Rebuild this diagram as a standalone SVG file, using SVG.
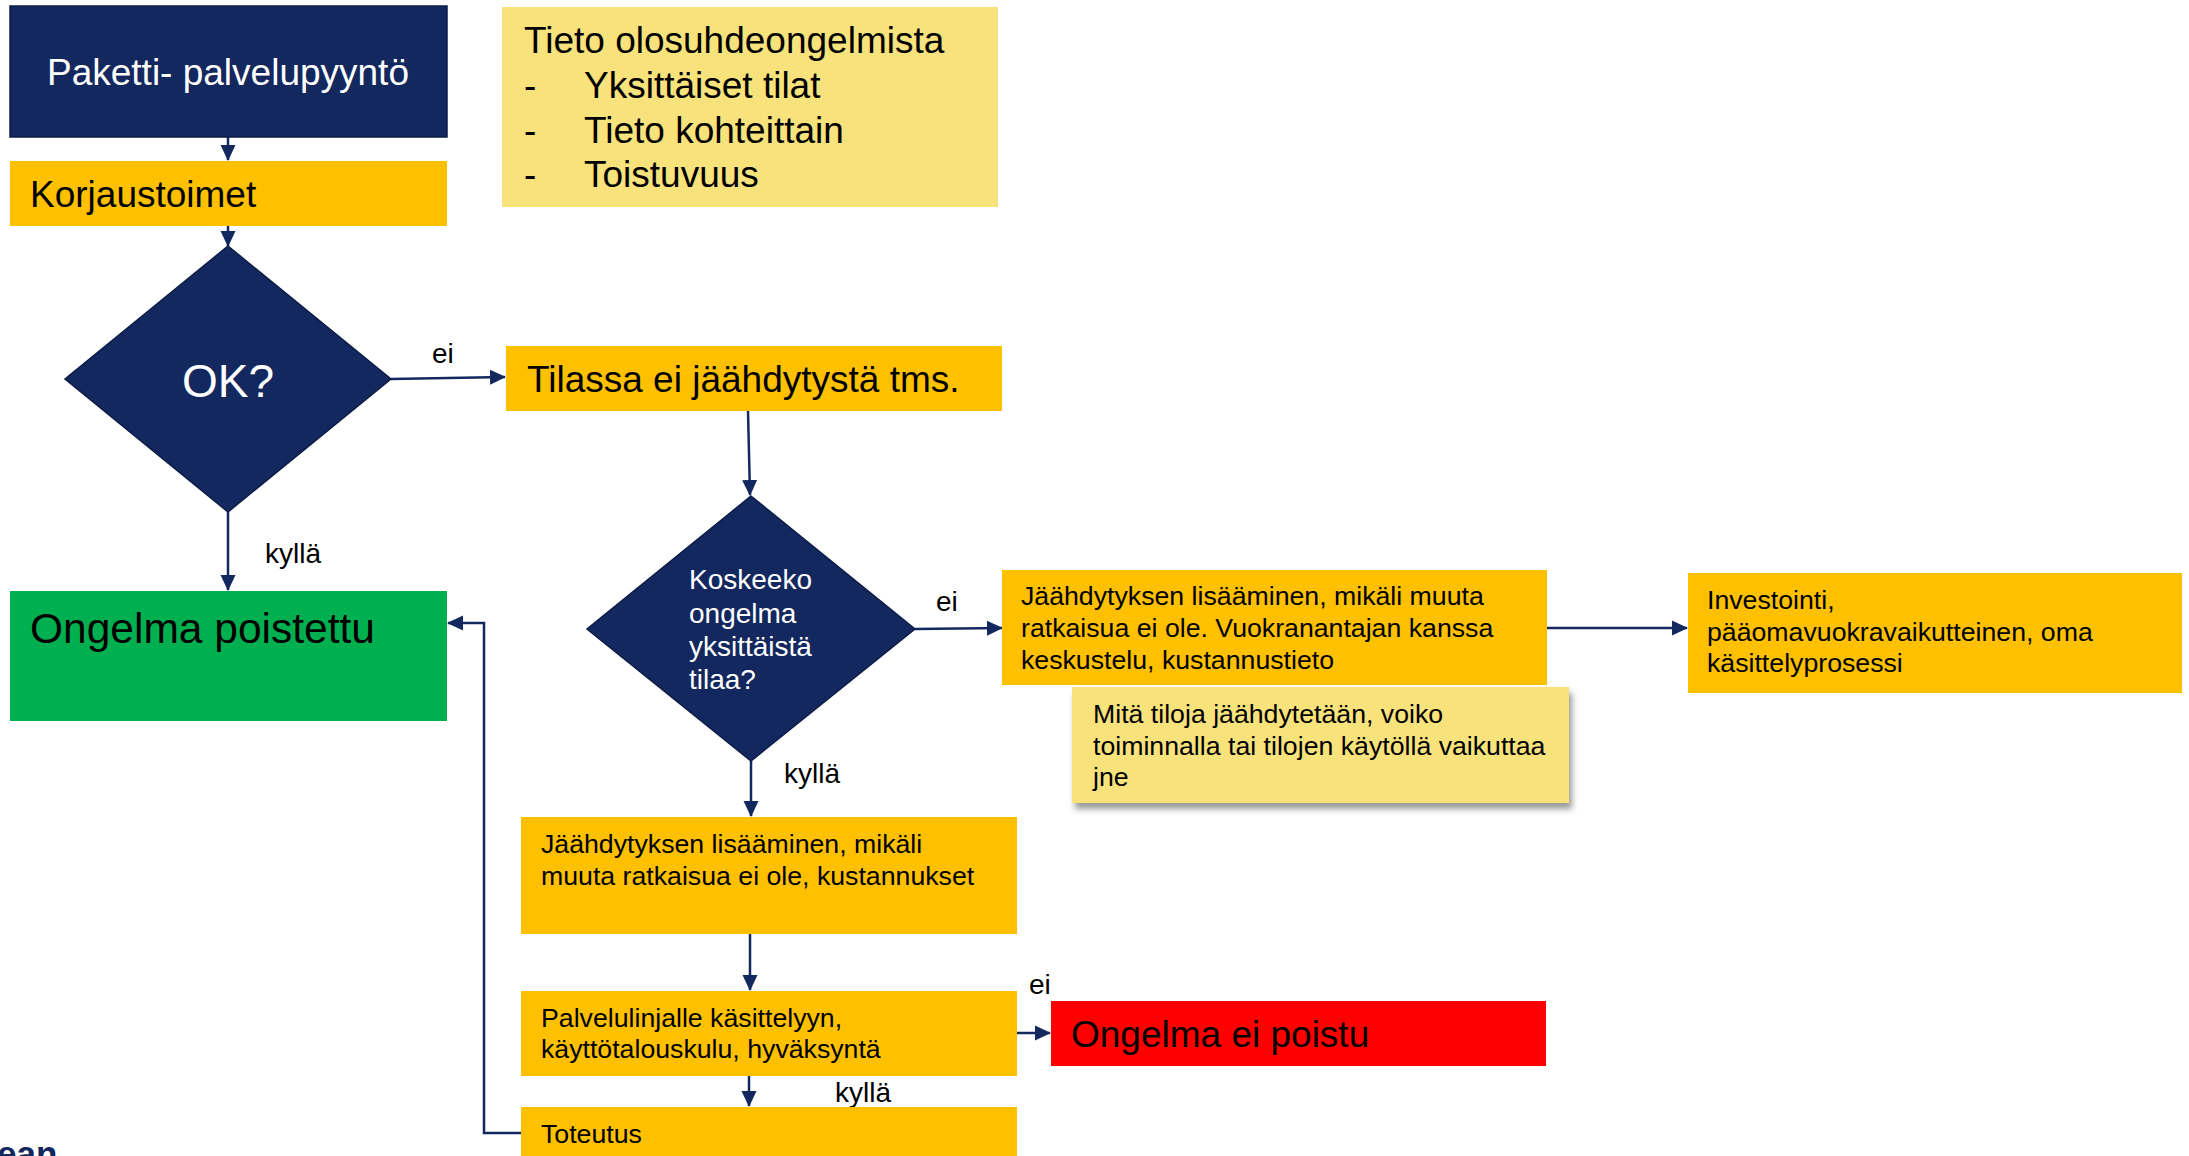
<svg xmlns="http://www.w3.org/2000/svg" width="2189" height="1156" viewBox="0 0 2189 1156">
<defs>
<style>
.t{font-family:"Liberation Sans",Arial,sans-serif;fill:#000}
.w{fill:#fff}
.navy{fill:#13285E;stroke:#0C1C46;stroke-width:1.5}
.org{fill:#FFC000}
.lt{fill:#F8E27B}
.c{fill:none;stroke:#13285E;stroke-width:2.5}
.s36{font-size:37px}
.s27{font-size:26.7px}
.s28{font-size:28px}
</style>
<marker id="ah" viewBox="0 0 16 16" refX="15" refY="8" markerWidth="16" markerHeight="16" markerUnits="userSpaceOnUse" orient="auto">
<path d="M0,0.5 L16,8 L0,15.5 Z" fill="#13285E"/>
</marker>
<filter id="sh" x="-5%" y="-10%" width="115%" height="130%">
<feDropShadow dx="3" dy="6" stdDeviation="3" flood-color="#000" flood-opacity="0.4"/>
</filter>
</defs>
<rect width="2189" height="1156" fill="#fff"/>

<g id="connectors">
<path class="c" d="M228,137 L228,160" marker-end="url(#ah)"/>
<path class="c" d="M228,226 L228,246" marker-end="url(#ah)"/>
<path class="c" d="M391,379 L505,377" marker-end="url(#ah)"/>
<path class="c" d="M748,411 L750,495" marker-end="url(#ah)"/>
<path class="c" d="M228,512 L228,590" marker-end="url(#ah)"/>
<path class="c" d="M915,629 L1002,628" marker-end="url(#ah)"/>
<path class="c" d="M1547,628 L1687,628" marker-end="url(#ah)"/>
<path class="c" d="M751,761 L751,816" marker-end="url(#ah)"/>
<path class="c" d="M750,934 L750,990" marker-end="url(#ah)"/>
<path class="c" d="M1017,1033 L1050,1033" marker-end="url(#ah)"/>
<path class="c" d="M749,1076 L749,1106" marker-end="url(#ah)"/>
<path class="c" d="M521,1133 L484,1133 L484,623 L448,623" marker-end="url(#ah)"/>
<text class="t s28" x="432" y="363">ei</text>
<text class="t s28" x="265" y="563">kyllä</text>
<text class="t s28" x="936" y="611">ei</text>
<text class="t s28" x="784" y="783">kyllä</text>
<text class="t s28" x="1029" y="994">ei</text>
<text class="t s28" x="835" y="1102">kyllä</text>
</g>

<g id="n-paketti">
<rect class="navy" x="10" y="6" width="437" height="131"/>
<text class="t w s36" x="228" y="85" text-anchor="middle">Paketti- palvelupyyntö</text>
</g>

<g id="n-korjaus">
<rect class="org" x="10" y="161" width="437" height="65"/>
<text class="t s36" x="30" y="207">Korjaustoimet</text>
</g>

<g id="n-tieto">
<rect class="lt" x="502" y="7" width="496" height="200"/>
<text class="t s36" x="524" y="53">Tieto olosuhdeongelmista</text>
<text class="t s36" x="524" y="98">-</text>
<text class="t s36" x="584" y="98">Yksittäiset tilat</text>
<text class="t s36" x="524" y="143">-</text>
<text class="t s36" x="584" y="143">Tieto kohteittain</text>
<text class="t s36" x="524" y="187">-</text>
<text class="t s36" x="584" y="187">Toistuvuus</text>
</g>

<g id="n-ok">
<polygon class="navy" points="228,246 391,379 228,512 65,379"/>
<text class="t w" x="228" y="397" text-anchor="middle" font-size="46">OK?</text>
</g>

<g id="n-tilassa">
<rect class="org" x="506" y="346" width="496" height="65"/>
<text class="t s36" x="527" y="392">Tilassa ei jäähdytystä tms.</text>
</g>

<g id="n-poistettu">
<rect x="10" y="591" width="437" height="130" fill="#00B050"/>
<text class="t" x="30" y="643" font-size="42.5">Ongelma poistettu</text>
</g>

<g id="n-koskeeko">
<polygon class="navy" points="751,496 915,629 751,761 587,629"/>
<text class="t w s28" x="689" y="589">Koskeeko</text>
<text class="t w s28" x="689" y="623">ongelma</text>
<text class="t w s28" x="689" y="656">yksittäistä</text>
<text class="t w s28" x="689" y="689">tilaa?</text>
</g>

<g id="n-vuokranantaja">
<rect class="org" x="1002" y="570" width="545" height="115"/>
<text class="t s27" x="1021" y="605">Jäähdytyksen lisääminen, mikäli muuta</text>
<text class="t s27" x="1021" y="637">ratkaisua ei ole. Vuokranantajan kanssa</text>
<text class="t s27" x="1021" y="669">keskustelu, kustannustieto</text>
</g>

<g id="n-investointi">
<rect class="org" x="1688" y="573" width="494" height="120"/>
<text class="t s27" x="1707" y="609">Investointi,</text>
<text class="t s27" x="1707" y="641">pääomavuokravaikutteinen, oma</text>
<text class="t s27" x="1707" y="672">käsittelyprosessi</text>
</g>

<g id="n-note">
<rect class="lt" x="1072" y="687" width="497" height="116" filter="url(#sh)"/>
<text class="t s27" x="1093" y="723">Mitä tiloja jäähdytetään, voiko</text>
<text class="t s27" x="1093" y="755">toiminnalla tai tilojen käytöllä vaikuttaa</text>
<text class="t s27" x="1093" y="786">jne</text>
</g>

<g id="n-kustannukset">
<rect class="org" x="521" y="817" width="496" height="117"/>
<text class="t s27" x="541" y="853">Jäähdytyksen lisääminen, mikäli</text>
<text class="t s27" x="541" y="885">muuta ratkaisua ei ole, kustannukset</text>
</g>

<g id="n-palvelulinja">
<rect class="org" x="521" y="991" width="496" height="85"/>
<text class="t s27" x="541" y="1027">Palvelulinjalle käsittelyyn,</text>
<text class="t s27" x="541" y="1058">käyttötalouskulu, hyväksyntä</text>
</g>

<g id="n-eipoistu">
<rect x="1051" y="1001" width="495" height="65" fill="#FF0000"/>
<text class="t" x="1071" y="1047" font-size="37">Ongelma ei poistu</text>
</g>

<g id="n-toteutus">
<rect class="org" x="521" y="1107" width="496" height="49"/>
<text class="t s27" x="541" y="1143">Toteutus</text>
</g>

<text x="-3" y="1166" font-family="Liberation Sans,Arial,sans-serif" font-weight="bold" font-size="35" fill="#13285E">ean</text>
</svg>
